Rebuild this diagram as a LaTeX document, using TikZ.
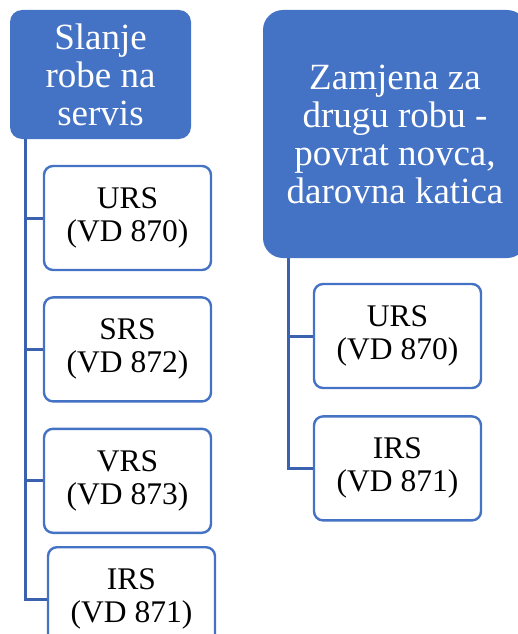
\documentclass[tikz,border=0pt]{standalone}
\usepackage{fontspec}
\setmainfont{Liberation Serif}
\newfontfamily\timesfont{Liberation Serif}
\usepackage{tikz}
\usetikzlibrary{positioning}
\definecolor{hdblue}{HTML}{4472C4}
\definecolor{lnblue}{HTML}{3A62AE}

\begin{document}
\begin{tikzpicture}[x=1pt,y=-1pt]
	\tikzstyle{hdbox}=[fill=hdblue,text=white,rounded corners=12pt,inner sep=0pt,align=center,font=\timesfont\fontsize{37}{38}\selectfont]
	\tikzstyle{rsbox}=[draw=hdblue,line width=2.4pt,fill=white,rounded corners=9pt,minimum width=167pt,minimum height=104pt,inner sep=0pt,align=center,font=\timesfont\fontsize{31.5}{33}\selectfont]
	\tikzstyle{l}=[draw=lnblue,line width=3pt]
	\useasboundingbox (0,0) rectangle (518,634);

	%% Headers
	\node[hdbox,minimum width=181pt,minimum height=129pt] (servis) at (100.5,74.5) {Slanje\\robe na\\servis};
	\node[hdbox,rounded corners=20pt,minimum width=264pt,minimum height=248pt] (zamjena) at (395,134) {Zamjena za\\drugu robu -\\povrat novca,\\darovna katica};

	%% Left column
	\node[rsbox] (ursL) at (127.5,218) {URS\\(VD 870)};
	\node[rsbox,below=25pt of ursL] (srsL) {SRS\\(VD 872)};
	\node[rsbox,below=25pt of srsL] (vrsL) {VRS\\(VD 873)};
	\node[rsbox,below=12pt of vrsL,xshift=4pt] (irsL) {IRS\\(VD 871)};

	%% Right column
	\node[rsbox] (ursR) at (397.5,336) {URS\\(VD 870)};
	\node[rsbox,below=26pt of ursR] (irsR) {IRS\\(VD 871)};

	%% Connectors
	\draw[l] ([xshift=16pt]servis.south west) |- (ursL.west);
	\draw[l] ([xshift=16pt]servis.south west) |- (srsL.west);
	\draw[l] ([xshift=16pt]servis.south west) |- (vrsL.west);
	\draw[l] ([xshift=16pt]servis.south west) |- (irsL.west);
	\draw[l] ([xshift=25.5pt]zamjena.south west) |- (ursR.west);
	\draw[l] ([xshift=25.5pt]zamjena.south west) |- (irsR.west);
\end{tikzpicture}
\end{document}
